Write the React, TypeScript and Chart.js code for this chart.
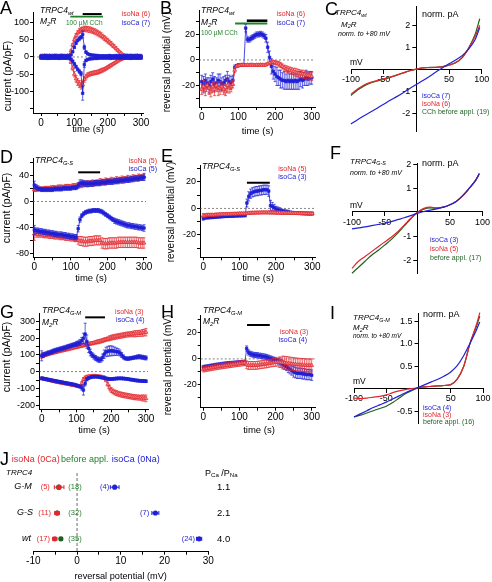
import React, { useEffect, useRef } from 'react';
import { Chart, registerables } from 'chart.js';

Chart.register(...registerables);

const FONT = '"Liberation Sans", Arial, Helvetica, sans-serif';
Chart.defaults.font.family = FONT;
Chart.defaults.color = '#000';

const RED = '#e2262c';
const RED_FILL = '#f08a8d';
const BLUE = '#2020d6';
const GREEN = '#23802a';
const DKGREEN = '#1e5f20';
const BLACK = '#000000';

// ---------- time base (s) ----------
const T = [
  0, 5, 10, 15, 20, 25, 30, 35, 40, 45,
  50, 55, 60, 65, 70, 75, 80, 85, 90, 95,
  100, 105, 110, 115, 120, 125, 130, 135, 140, 145,
  150, 155, 160, 165, 170, 175, 180, 185, 190, 195,
  200, 205, 210, 215, 220, 225, 230, 235, 240, 245,
  250, 255, 260, 265, 270, 275, 280, 285, 290, 295,
  300,
];

// ---------- Panel A: TRPC4wt current (pA/pF) ----------
const A_NA_OUT = [
  3, 3, 4, 3, 3, 4, 3, 3, 3, 4,
  3, 3, 4, 3, 3, 3, 4, 5, 18, 35,
  50, 62, 70, 75, 78, 80, 81, 81, 80, 79,
  78, 76, 74, 72, 69, 66, 63, 59, 55, 51,
  47, 43, 39, 34, 30, 25, 20, 15, 11, 7,
  5, 4, 3, 3, 4, 3, 3, 3, 4, 3,
  3,
];
const A_NA_OUT_E = [
  1, 1, 1, 1, 1, 1, 1, 1, 1, 1,
  1, 1, 1, 1, 1, 1, 1, 2, 3, 4,
  5, 6, 6, 7, 7, 7, 8, 8, 8, 8,
  8, 8, 8, 8, 8, 8, 8, 7, 7, 7,
  7, 6, 6, 6, 5, 5, 4, 4, 3, 2,
  2, 1, 1, 1, 1, 1, 1, 1, 1, 1,
  1,
];
const A_NA_IN = [
  -3, -3, -4, -3, -3, -3, -4, -3, -3, -3,
  -4, -3, -3, -3, -4, -3, -3, -5, -15, -32,
  -50, -63, -72, -78, -83, -80, -65, -57, -52, -50,
  -48, -47, -46, -45, -44, -42, -40, -38, -36, -33,
  -30, -27, -24, -21, -18, -15, -12, -9, -7, -5,
  -4, -3, -3, -4, -3, -3, -3, -3, -4, -3,
  -3,
];
const A_NA_IN_E = [
  1, 1, 1, 1, 1, 1, 1, 1, 1, 1,
  1, 1, 1, 1, 1, 1, 1, 2, 4, 6,
  8, 9, 10, 10, 10, 9, 8, 7, 6, 6,
  6, 6, 6, 6, 6, 6, 6, 6, 5, 5,
  5, 5, 5, 4, 4, 4, 3, 3, 2, 2,
  2, 1, 1, 1, 1, 1, 1, 1, 1, 1,
  1,
];
const A_CA_OUT = [
  3, 3, 3, 4, 3, 3, 3, 3, 4, 3,
  3, 3, 3, 4, 3, 3, 3, 3, 6, 15,
  28, 40, 48, 53, 57, 65, 28, 14, 9, 7,
  6, 5, 5, 4, 4, 3, 3, 3, 3, 3,
  3, 4, 3, 3, 3, 4, 3, 3, 3, 3,
  3, 3, 4, 3, 3, 3, 3, 4, 3, 3,
  3,
];
const A_CA_OUT_E = [
  1, 1, 1, 1, 1, 1, 1, 1, 1, 1,
  1, 1, 1, 1, 1, 1, 1, 1, 1, 2,
  3, 4, 4, 5, 5, 10, 6, 3, 2, 1,
  1, 1, 1, 1, 1, 1, 1, 1, 1, 1,
  1, 1, 1, 1, 1, 1, 1, 1, 1, 1,
  1, 1, 1, 1, 1, 1, 1, 1, 1, 1,
  1,
];
const A_CA_IN = [
  -3, -3, -3, -3, -4, -3, -3, -3, -3, -3,
  -3, -4, -3, -3, -3, -3, -3, -3, -6, -12,
  -20, -28, -36, -42, -48, -105, -22, -10, -7, -6,
  -5, -5, -4, -4, -4, -3, -3, -3, -3, -3,
  -3, -3, -4, -3, -3, -3, -3, -3, -3, -3,
  -3, -3, -3, -3, -4, -3, -3, -3, -3, -3,
  -3,
];
const A_CA_IN_E = [
  1, 1, 1, 1, 1, 1, 1, 1, 1, 1,
  1, 1, 1, 1, 1, 1, 1, 1, 2, 2,
  3, 4, 4, 5, 6, 20, 8, 3, 2, 1,
  1, 1, 1, 1, 1, 1, 1, 1, 1, 1,
  1, 1, 1, 1, 1, 1, 1, 1, 1, 1,
  1, 1, 1, 1, 1, 1, 1, 1, 1, 1,
  1,
];

// ---------- Panel B: TRPC4wt reversal potential (mV) ----------
const B_NA = [
  -23, -21, -24, -20, -22, -25, -21, -23, -20, -24,
  -22, -21, -23, -25, -20, -22, -21, -19, -8, -5,
  -4.5, -4, -3.8, -4, -4.1, -3.9, -4, -3.8, -4, -4.1,
  -3.9, -4, -3.8, -3.9, -4, -3.8, -3, -2.5, -2, -1.5,
  -2, -2.5, -3, -4, -5, -6, -7, -7.5, -8, -8.5,
  -9, -9.5, -10, -10.5, -11, -11, -11.5, -12, -12, -12.5,
  -13,
];
const B_NA_E = [
  4, 5, 4, 3, 5, 4, 4, 5, 3, 4,
  5, 4, 4, 3, 5, 4, 4, 3, 2, 1,
  1, 1, 1, 1, 1, 1, 1, 1, 1, 1,
  1, 1, 1, 1, 1, 1, 1, 1, 1, 1,
  1.5, 1.5, 2, 2, 2, 2, 2.5, 2.5, 2.5, 2.5,
  2.5, 3, 3, 3, 3, 3, 3, 3, 3, 3,
  3,
];
const B_CA = [
  -17, -19, -16, -18, -20, -17, -15, -19, -18, -16,
  -17, -19, -18, -16, -15, -17, -18, -16, -6, -4.5,
  -4, -4, -4, -4, 25, 16, 16, 17, 18, 19,
  20, 20, 20.5, 20, 19, 17, 10, 2, -5, -9,
  -11, -13, -14, -15, -16, -16, -17, -16, -17, -16,
  -17, -16, -17, -16, -15, -16, -15, -14, -15, -14,
  -14,
];
const B_CA_E = [
  5, 6, 5, 4, 6, 5, 5, 6, 4, 5,
  6, 5, 5, 4, 6, 5, 5, 4, 2, 1,
  1, 1, 1, 1, 3, 2, 2, 2, 2, 2,
  2, 2, 2, 2, 2, 3, 4, 5, 6, 6,
  6, 7, 6, 7, 6, 7, 6, 7, 6, 7,
  6, 7, 6, 7, 6, 6, 5, 6, 5, 5,
  5,
];

// ---------- Panel D: TRPC4 G-S current ----------
const D_NA_OUT = [
  18, 18, 19, 19, 19, 20, 20, 20, 20, 21,
  21, 21, 21, 22, 22, 22, 22, 23, 23, 23,
  23, 24, 24, 24, 25, 25, 26, 26, 27, 27,
  27, 28, 28, 28, 29, 29, 30, 30, 30, 31,
  31, 31, 32, 32, 32, 33, 33, 33, 34, 34,
  34, 35, 35, 35, 36, 36, 36, 37, 37, 37,
  38,
];
const D_NA_OUT_E = [
  3, 3, 2, 3, 3, 2, 3, 3, 3, 2,
  3, 3, 2, 3, 3, 3, 2, 3, 3, 3,
  2, 3, 3, 3, 4, 4, 5, 4, 4, 5,
  4, 4, 5, 4, 4, 4, 5, 4, 4, 5,
  4, 4, 5, 4, 4, 5, 4, 4, 5, 4,
  4, 5, 4, 4, 5, 4, 4, 5, 4, 4,
  5,
];
const D_CA_OUT = [
  25, 22, 20, 19, 18, 18, 18, 18, 18, 18,
  18, 19, 19, 19, 19, 19, 20, 20, 20, 20,
  20, 21, 21, 21, 24, 28, 28, 28, 27, 27,
  27, 27, 27, 28, 28, 28, 28, 29, 29, 29,
  30, 30, 30, 30, 31, 31, 31, 32, 32, 32,
  33, 33, 33, 34, 34, 35, 35, 35, 36, 36,
  37,
];
const D_CA_OUT_E = [
  6, 4, 4, 3, 3, 3, 3, 3, 3, 3,
  3, 3, 3, 3, 3, 3, 3, 3, 3, 3,
  3, 3, 3, 3, 4, 5, 5, 4, 4, 4,
  4, 4, 4, 4, 4, 4, 4, 4, 4, 4,
  4, 4, 4, 4, 4, 4, 4, 4, 4, 4,
  4, 4, 4, 4, 4, 4, 4, 4, 4, 4,
  5,
];
const D_NA_IN = [
  -50, -50, -51, -51, -51, -52, -52, -52, -53, -53,
  -53, -54, -54, -54, -55, -55, -55, -56, -56, -56,
  -57, -57, -58, -58, -60, -61, -61, -62, -62, -62,
  -61, -61, -61, -60, -60, -60, -60, -64, -65, -65,
  -65, -64, -64, -64, -64, -64, -63, -63, -63, -63,
  -63, -63, -63, -63, -63, -63, -63, -64, -64, -64,
  -64,
];
const D_NA_IN_E = [
  10, 5, 4, 4, 4, 4, 4, 4, 4, 4,
  4, 4, 4, 4, 4, 4, 4, 4, 4, 4,
  4, 4, 4, 4, 6, 7, 7, 7, 7, 7,
  7, 7, 7, 7, 7, 7, 7, 8, 8, 8,
  8, 8, 8, 8, 8, 8, 8, 8, 8, 8,
  8, 8, 8, 8, 8, 8, 8, 8, 8, 8,
  8,
];
const D_CA_IN = [
  -44, -45, -45, -46, -46, -47, -47, -48, -48, -49,
  -49, -50, -50, -51, -51, -51, -52, -52, -53, -53,
  -54, -54, -55, -55, -42, -28, -22, -19, -17, -16,
  -15, -15, -14, -14, -14, -14, -15, -16, -18, -20,
  -22, -24, -26, -28, -30, -31, -32, -33, -34, -35,
  -36, -37, -37, -38, -38, -39, -39, -40, -40, -41,
  -41,
];
const D_CA_IN_E = [
  7, 4, 4, 4, 4, 4, 4, 4, 4, 4,
  4, 4, 4, 4, 4, 4, 4, 4, 4, 4,
  4, 4, 4, 4, 5, 4, 3, 3, 3, 3,
  3, 3, 3, 3, 3, 3, 3, 3, 3, 3,
  3, 3, 3, 3, 4, 4, 4, 4, 4, 4,
  4, 4, 4, 4, 4, 4, 4, 4, 4, 4,
  5,
];

// ---------- Panel E: TRPC4 G-S reversal potential ----------
const E_NA = [
  -5.5, -5.5, -5, -5, -5, -5, -5, -4.8, -4.8, -4.6,
  -4.6, -4.5, -4.5, -4.4, -4.4, -4.3, -4.3, -4.2, -4.2, -4.1,
  -4, -4, -4, -4, -3.8, -3.6, -3.5, -3.4, -3.4, -3.3,
  -3.3, -3.3, -3.2, -3.2, -3.2, -3.2, -3.2, -3.3, -3.3, -3.3,
  -3.4, -3.4, -3.4, -3.5, -3.5, -3.5, -3.6, -3.6, -3.6, -3.7,
  -3.7, -3.7, -3.8, -3.8, -3.8, -3.9, -3.9, -3.9, -4, -4,
  -4,
];
const E_NA_E = [
  1.5, 1.2, 1, 1, 1, 1, 1, 1, 1, 1,
  1, 1, 1, 1, 1, 1, 1, 1, 1, 1,
  1, 1, 1, 1, 1, 1, 1, 1, 1, 1,
  1, 1, 1, 1, 1, 1, 1, 1, 1, 1,
  1, 1, 1, 1, 1, 1, 1, 1, 1, 1,
  1, 1, 1, 1, 1, 1, 1, 1, 1, 1,
  1,
];
const E_CA = [
  -7.5, -7.2, -7, -7, -6.8, -6.8, -6.6, -6.5, -6.4, -6.3,
  -6.2, -6.1, -6, -6, -5.9, -5.8, -5.8, -5.7, -5.6, -5.6,
  -5.5, -5.5, -5.4, -5.4, 4, 9, 11, 12, 12.5, 13,
  13, 13.5, 13.5, 14, 14, 14, 13, 2, 1.5, 0.5,
  -0.5, -1, -1.5, -2, -2.3, -2.6, -2.8, -3, -3.2, -3.3,
  -3.4, -3.5, -3.6, -3.7, -3.8, -3.8, -3.9, -3.9, -4, -4,
  -4,
];
const E_CA_E = [
  1.5, 1, 1, 1, 1, 1, 1, 1, 1, 1,
  1, 1, 1, 1, 1, 1, 1, 1, 1, 1,
  1, 1, 1, 1, 3, 3.5, 3.5, 3.5, 3.5, 3.5,
  3.5, 3.5, 3.5, 3.5, 3.5, 3.5, 4, 4, 3, 2.5,
  2, 2, 2, 1.5, 1.5, 1.5, 1.5, 1.5, 1, 1,
  1, 1, 1, 1, 1, 1, 1, 1, 1, 1,
  1,
];

// ---------- Panel G: TRPC4 G-M current ----------
const G_NA_OUT = [
  95, 98, 100, 103, 106, 110, 112, 115, 118, 120,
  123, 126, 128, 130, 133, 135, 138, 140, 143, 146,
  148, 150, 153, 155, 158, 160, 162, 165, 168, 170,
  172, 175, 178, 180, 183, 186, 190, 193, 196, 200,
  203, 206, 208, 210, 212, 214, 216, 218, 220, 222,
  223, 224, 225, 226, 227, 228, 229, 230, 232, 234,
  236,
];
const G_NA_OUT_E = [
  15, 12, 10, 10, 10, 10, 10, 10, 10, 10,
  10, 10, 10, 10, 10, 10, 10, 10, 10, 10,
  10, 10, 10, 10, 10, 10, 10, 10, 10, 10,
  10, 10, 12, 12, 12, 12, 12, 12, 12, 15,
  15, 15, 15, 15, 15, 15, 15, 15, 15, 15,
  15, 15, 15, 18, 18, 18, 18, 18, 20, 20,
  22,
];
const G_CA_OUT = [
  95, 100, 105, 110, 113, 116, 120, 125, 128, 131,
  134, 137, 140, 143, 146, 150, 153, 156, 160, 163,
  166, 170, 175, 185, 200, 225, 180, 140, 115, 100,
  90, 82, 75, 70, 72, 85, 105, 118, 122, 124,
  125, 124, 122, 120, 118, 112, 100, 88, 80, 78,
  78, 80, 82, 84, 86, 88, 90, 88, 86, 84,
  82,
];
const G_CA_OUT_E = [
  30, 15, 12, 12, 12, 12, 12, 12, 12, 12,
  12, 12, 12, 12, 12, 12, 12, 12, 12, 12,
  15, 15, 18, 20, 30, 65, 40, 25, 20, 15,
  15, 15, 15, 15, 15, 20, 25, 28, 30, 30,
  30, 28, 25, 22, 20, 18, 15, 12, 10, 10,
  10, 10, 10, 10, 10, 12, 12, 12, 12, 12,
  12,
];
const G_NA_IN = [
  -40, -42, -45, -47, -50, -52, -55, -57, -60, -62,
  -64, -66, -68, -70, -72, -74, -76, -78, -80, -82,
  -84, -86, -88, -70, -45, -35, -30, -28, -27, -26,
  -26, -26, -27, -28, -30, -32, -35, -50, -75, -95,
  -110, -118, -124, -128, -132, -135, -138, -140, -142, -144,
  -146, -148, -150, -152, -153, -154, -155, -156, -157, -158,
  -160,
];
const G_NA_IN_E = [
  8, 8, 8, 8, 8, 8, 8, 8, 8, 8,
  8, 8, 8, 8, 8, 8, 8, 8, 8, 8,
  8, 8, 8, 10, 10, 8, 6, 6, 6, 6,
  6, 6, 6, 6, 6, 6, 8, 10, 12, 14,
  15, 15, 15, 15, 15, 15, 15, 15, 15, 15,
  15, 15, 15, 15, 15, 15, 15, 15, 18, 18,
  20,
];
const G_CA_IN = [
  -40, -42, -44, -46, -48, -50, -52, -54, -56, -58,
  -60, -62, -64, -66, -68, -70, -72, -74, -76, -78,
  -82, -86, -90, -95, -110, -70, -45, -38, -34, -31,
  -30, -30, -30, -32, -34, -36, -38, -40, -42, -44,
  -44, -43, -42, -41, -40, -40, -40, -41, -42, -43,
  -45, -47, -48, -50, -52, -53, -54, -55, -56, -56,
  -57,
];
const G_CA_IN_E = [
  8, 8, 8, 8, 8, 8, 8, 8, 8, 8,
  8, 8, 8, 8, 8, 8, 8, 8, 8, 8,
  8, 8, 8, 15, 30, 15, 10, 8, 8, 8,
  8, 8, 8, 8, 8, 8, 8, 8, 8, 8,
  8, 8, 8, 8, 8, 8, 8, 8, 8, 8,
  8, 8, 8, 8, 8, 8, 8, 8, 8, 8,
  8,
];

// ---------- Panel H: TRPC4 G-M reversal potential ----------
const H_NA = [
  -8, -7.8, -7.5, -7.3, -7, -6.8, -6.5, -6.3, -6, -5.8,
  -5.6, -5.4, -5.2, -5, -4.8, -4.6, -4.4, -4.2, -4, -3.8,
  -3.6, -3.4, -3.2, -3, -4.5, -5, -5, -5, -5, -5,
  -4.8, -4.6, -4.4, -4.2, -4, -3.8, -3.5, -3.2, -3, -2.8,
  -2.6, -2.5, -2.5, -2.6, -2.8, -3, -3.2, -3.4, -3.6, -3.8,
  -4, -4.2, -4.4, -4.5, -4.6, -4.7, -4.8, -4.9, -5, -5,
  -5,
];
const H_NA_E = [
  2, 2, 2, 2, 2, 2, 2, 2, 2, 2,
  2, 2, 2, 2, 2, 2, 2, 2, 2, 2,
  2, 2, 2, 2, 3, 3, 3, 3, 3, 3,
  3, 3, 3, 3, 3, 3, 3, 3, 3, 3,
  3, 3, 4, 4, 5, 5, 5, 5, 5, 5,
  5, 5, 5, 5, 5, 5, 5, 5, 5, 5,
  5,
];
const H_CA = [
  -6.5, -6.2, -6, -5.8, -5.5, -5.3, -5, -4.8, -4.6, -4.4,
  -4.2, -4, -3.8, -3.6, -3.5, -3.4, -3.3, -3.2, -3, -2.9,
  -2.8, -2.7, -2.6, -2.5, 8, 5, 4, 3.5, 3, 3,
  2.8, 2.5, 2.3, 2, 1.8, 1.5, 1, 0.5, 0, -0.5,
  -1, -1.5, -2, -3, -4, -5, -6, -7, -8, -9,
  -10, -10.5, -11, -11, -11, -11.5, -11.5, -12, -12, -12,
  -12.5,
];
const H_CA_E = [
  1.5, 1.5, 1.5, 1.5, 1.5, 1.5, 1.5, 1.5, 1.5, 1.5,
  1.5, 1.5, 1.5, 1.5, 1.5, 1.5, 1.5, 1.5, 1.5, 1.5,
  1.5, 1.5, 1.5, 1.5, 2, 2, 2, 2, 2, 2,
  2, 2, 2, 2, 2, 2, 2, 2, 2, 2,
  2, 2, 2.5, 2.5, 3, 3, 3, 3.5, 3.5, 3.5,
  4, 4, 4, 4, 4, 4, 4, 4, 4, 4,
  4,
];

// ---------- IV curves (normalised to +80 mV) ----------
const V_C = [-100, -90, -80, -70, -60, -50, -40, -30, -20, -10, 0, 10, 20, 30, 40, 50, 60, 70, 80, 90, 97];
const C_CA = [-2.5, -2.3, -2.12, -1.95, -1.78, -1.6, -1.42, -1.25, -1.07, -0.88, -0.7, -0.52, -0.33, -0.13, 0.07, 0.25, 0.42, 0.62, 0.92, 1.35, 1.9];
const C_NA = [-1.15, -0.9, -0.72, -0.6, -0.52, -0.44, -0.36, -0.27, -0.17, -0.07, 0, 0.06, 0.07, 0.08, 0.11, 0.18, 0.29, 0.52, 0.95, 1.5, 2.0];
const C_BEF = [-1.2, -0.95, -0.76, -0.63, -0.54, -0.46, -0.37, -0.27, -0.17, -0.07, 0, 0.06, 0.08, 0.09, 0.12, 0.19, 0.3, 0.53, 0.97, 1.6, 2.3];

const V_F = [-100, -90, -80, -70, -60, -50, -40, -30, -20, -10, 0, 10, 20, 30, 40, 50, 60, 70, 80, 90, 95];
const F_CA = [-0.7, -0.66, -0.62, -0.57, -0.52, -0.47, -0.4, -0.32, -0.24, -0.15, -0.06, 0.02, 0.08, 0.13, 0.2, 0.3, 0.45, 0.7, 1.0, 1.35, 1.6];
const F_NA = [-2.35, -2.05, -1.85, -1.65, -1.45, -1.25, -1.05, -0.82, -0.55, -0.26, -0.02, 0.15, 0.2, 0.17, 0.2, 0.3, 0.45, 0.68, 1.0, 1.35, 1.58];
const F_BEF = [-2.55, -2.3, -2.05, -1.8, -1.6, -1.38, -1.15, -0.88, -0.58, -0.28, -0.02, 0.12, 0.17, 0.16, 0.2, 0.3, 0.45, 0.68, 1.0, 1.35, 1.6];

const V_I = [-100, -90, -80, -70, -60, -50, -40, -30, -20, -10, 0, 10, 20, 30, 40, 50, 60, 70, 80, 90, 95];
const I_CA = [-0.64, -0.57, -0.5, -0.43, -0.37, -0.31, -0.24, -0.17, -0.1, -0.04, 0.02, 0.08, 0.14, 0.2, 0.27, 0.36, 0.5, 0.72, 1.0, 1.3, 1.47];
const I_NA = [-0.22, -0.23, -0.22, -0.2, -0.18, -0.15, -0.1, -0.06, -0.03, -0.01, 0.01, 0.03, 0.04, 0.05, 0.06, 0.08, 0.2, 0.48, 1.0, 1.42, 1.68];
const I_BEF = [-0.64, -0.6, -0.55, -0.5, -0.45, -0.4, -0.32, -0.22, -0.12, -0.05, 0.01, 0.03, 0.04, 0.05, 0.06, 0.08, 0.2, 0.48, 1.0, 1.38, 1.6];

// ---------- Panel J: reversal potentials ----------
const J_ROWS = ['G-M', 'G-S', 'wt'];
const J_Y = [3, 2, 1];
const J_NA = [-4.1, -4.6, -5.1];
const J_NA_E = [1.1, 0.5, 0.5];
const J_BEF = [-4.2, -4.5, -3.7];
const J_BEF_E = [0.3, 0.3, 0.3];
const J_CA = [8.6, 17.9, 27.9];
const J_CA_E = [1.0, 0.8, 0.6];
const J_NA_N = ['(5)', '(11)', '(17)'];
const J_BEF_N = ['(18)', '(32)', '(35)'];
const J_CA_N = ['(4)', '(7)', '(24)'];
const J_RATIO = ['1.1', '2.1', '4.0'];

// ---------- ticks ----------
const TIME_TICKS = [0, 50, 100, 150, 200, 250, 300];
const TIME_LABELS = [0, 100, 200, 300];
const A_YT = [-150, -100, -50, 0, 50, 100];
const A_YL = [-100, -50, 0, 50, 100];
const RP_YT = [-30, -20, -10, 0, 10, 20, 30];
const RP_YL = [-20, 0, 20];
const D_YT = [-80, -60, -40, -20, 0, 20, 40, 60];
const D_YL = [-80, -40, 0, 40];
const G_YT = [-200, -150, -100, -50, 0, 50, 100, 150, 200, 250, 300];
const G_YL = [-200, -100, 0, 100, 200, 300];
const IV_XT = [-100, -50, 50, 100];
const CF_YT = [-2, -1, 1, 2];
const I_YT = [-0.5, 0.5, 1, 1.5];
const J_XT = [-10, -5, 0, 5, 10, 15, 20, 25, 30];
const J_XL = [-10, 0, 10, 20, 30];

// application bars (s)
const A_BARS = [
  { from: 125, to: 182, level: 124, color: BLACK, w: 2 },
  { from: 88, to: 186, level: 116.5, color: GREEN, w: 1.8 },
];
const B_BARS = [
  { from: 123, to: 179, level: 30.8, color: BLACK, w: 2.5 },
  { from: 91, to: 179, level: 28.6, color: GREEN, w: 1.8 },
];
const D_BARS = [{ from: 120, to: 180, level: 44.6, color: BLACK, w: 2 }];
const E_BARS = [{ from: 120, to: 183, level: 19.3, color: BLACK, w: 2 }];
const G_BARS = [{ from: 125, to: 182, level: 325, color: BLACK, w: 2 }];
const H_BARS = [{ from: 121, to: 184, level: 26.1, color: BLACK, w: 2 }];

// ---------- plugins ----------
const errorBarPlugin = {
  id: 'errBars',
  beforeDatasetDraw(chart: any, args: any) {
    const ds = chart.data.datasets[args.index];
    if (!ds.errY && !ds.errX) return;
    const ctx = chart.ctx;
    const xs = chart.scales.x;
    const ys = chart.scales.y;
    const cap = ds.errCap ?? 1.5;
    ctx.save();
    ctx.strokeStyle = ds.borderColor;
    ctx.lineWidth = ds.errWidth ?? 0.7;
    args.meta.data.forEach((pt: any, i: number) => {
      const d = ds.data[i];
      ctx.beginPath();
      if (ds.errY) {
        const e = ds.errY[i];
        const y1 = ys.getPixelForValue(d.y + e);
        const y2 = ys.getPixelForValue(d.y - e);
        ctx.moveTo(pt.x, y1); ctx.lineTo(pt.x, y2);
        ctx.moveTo(pt.x - cap, y1); ctx.lineTo(pt.x + cap, y1);
        ctx.moveTo(pt.x - cap, y2); ctx.lineTo(pt.x + cap, y2);
      }
      if (ds.errX) {
        const e = ds.errX[i];
        const x1 = xs.getPixelForValue(d.x - e);
        const x2 = xs.getPixelForValue(d.x + e);
        ctx.moveTo(x1, pt.y); ctx.lineTo(x2, pt.y);
        ctx.moveTo(x1, pt.y - cap); ctx.lineTo(x1, pt.y + cap);
        ctx.moveTo(x2, pt.y - cap); ctx.lineTo(x2, pt.y + cap);
      }
      ctx.stroke();
    });
    ctx.restore();
  },
};

const refLinePlugin = {
  id: 'refLine',
  beforeDatasetsDraw(chart: any, _a: any, opts: any) {
    if (!opts || !opts.axis) return;
    const { ctx, chartArea } = chart;
    ctx.save();
    ctx.setLineDash(opts.dash || [2, 2]);
    ctx.strokeStyle = opts.color || '#555';
    ctx.lineWidth = opts.width || 0.7;
    ctx.beginPath();
    if (opts.axis === 'y') {
      const y = chart.scales.y.getPixelForValue(opts.value ?? 0);
      ctx.moveTo(chartArea.left, y); ctx.lineTo(chartArea.right, y);
    } else {
      const x = chart.scales.x.getPixelForValue(opts.value ?? 0);
      ctx.moveTo(x, chartArea.top); ctx.lineTo(x, chartArea.bottom);
    }
    ctx.stroke();
    ctx.restore();
  },
};

const appBarPlugin = {
  id: 'appBars',
  afterDatasetsDraw(chart: any, _a: any, opts: any) {
    const bars = opts && opts.bars;
    if (!bars) return;
    const ctx = chart.ctx;
    for (const b of bars) {
      const x1 = chart.scales.x.getPixelForValue(b.from);
      const x2 = chart.scales.x.getPixelForValue(b.to);
      const y = chart.scales.y.getPixelForValue(b.level);
      ctx.save();
      ctx.strokeStyle = b.color;
      ctx.lineWidth = b.w;
      ctx.beginPath();
      ctx.moveTo(x1, y); ctx.lineTo(x2, y);
      ctx.stroke();
      ctx.restore();
    }
  },
};

// y ticks + labels for the centred IV axes (drawn on the left of the x=0 axis)
const ivYAxisPlugin = {
  id: 'ivY',
  afterDraw(chart: any, _a: any, opts: any) {
    if (!opts || !opts.ticks) return;
    const ctx = chart.ctx;
    const x0 = chart.scales.x.getPixelForValue(0);
    const ys = chart.scales.y;
    ctx.save();
    ctx.strokeStyle = '#000';
    ctx.fillStyle = '#000';
    ctx.lineWidth = 1;
    ctx.font = `${opts.size}px ${FONT}`;
    ctx.textAlign = 'right';
    ctx.textBaseline = 'middle';
    for (const v of opts.ticks) {
      const y = Math.round(ys.getPixelForValue(v)) + 0.5;
      ctx.beginPath();
      ctx.moveTo(x0 - 4, y); ctx.lineTo(x0, y);
      ctx.stroke();
      ctx.fillText(opts.decimals ? v.toFixed(opts.decimals) : String(v), x0 - 6, y);
    }
    ctx.restore();
  },
};

// ---------- axis helpers ----------
function linAxis(pos: any, range: number[], ticks: number[], labels: number[], size: number, fit: any, tl = 3) {
  return {
    type: 'linear',
    position: pos,
    min: range[0],
    max: range[1],
    border: { display: true, color: '#000', width: 1 },
    grid: { display: true, drawOnChartArea: false, drawTicks: true, tickLength: tl, tickWidth: 1, tickColor: '#000' },
    ticks: {
      color: '#000',
      font: { family: FONT, size },
      padding: 1,
      autoSkip: false,
      maxRotation: 0,
      minRotation: 0,
      callback: (v: number) => (labels.includes(v) ? String(v) : ''),
    },
    afterBuildTicks: (a: any) => { a.ticks = ticks.map((v) => ({ value: v })); },
    afterFit: fit,
  };
}

const baseOpts = {
  animation: false,
  responsive: false,
  devicePixelRatio: 1,
  events: [],
};

function timeConfig(p: any) {
  return {
    type: 'line',
    data: {
      datasets: p.ser.map((s: any) => ({
        data: T.map((t, i) => ({ x: t, y: s.v[i] })),
        errY: s.e,
        borderColor: s.c,
        backgroundColor: s.fill,
        pointBackgroundColor: s.fill,
        pointBorderColor: s.c,
        pointStyle: s.shape,
        pointRadius: s.r,
        pointBorderWidth: 0.7,
        borderWidth: 0.8,
        tension: 0,
        order: s.order,
        clip: false,
      })),
    },
    options: {
      ...baseOpts,
      layout: { padding: { left: 0, right: p.pr, top: p.pt, bottom: 0 } },
      plugins: {
        legend: { display: false },
        tooltip: { enabled: false },
        refLine: { axis: 'y', value: 0 },
        appBars: { bars: p.bars },
      },
      scales: {
        x: linAxis('bottom', p.xr, TIME_TICKS, TIME_LABELS, 10, (s: any) => { s.height = p.xH; }),
        y: linAxis('left', p.yr, p.yt, p.yl, 9, (s: any) => { s.width = p.yW; }),
      },
    },
    plugins: [errorBarPlugin, refLinePlugin, appBarPlugin],
  };
}

function ivConfig(p: any) {
  const xAx = linAxis({ y: 0 }, [-100, 100], IV_XT, IV_XT, 9, undefined, 4);
  return {
    type: 'line',
    data: {
      datasets: p.ser.map((s: any) => ({
        data: p.V.map((v: number, i: number) => ({ x: v, y: s.v[i] })),
        borderColor: s.c,
        borderWidth: 1.2,
        pointRadius: 0,
        cubicInterpolationMode: 'monotone',
        fill: false,
        order: s.order,
        clip: false,
      })),
    },
    options: {
      ...baseOpts,
      layout: { padding: p.pad },
      plugins: {
        legend: { display: false },
        tooltip: { enabled: false },
        ivY: { ticks: p.yt, size: 9, decimals: p.decimals || 0 },
      },
      scales: {
        x: xAx,
        y: {
          type: 'linear',
          position: { x: 0 },
          min: p.yr[0],
          max: p.yr[1],
          border: { display: true, color: '#000', width: 1 },
          grid: { display: false, drawTicks: false },
          ticks: { display: false },
        },
      },
    },
    plugins: [ivYAxisPlugin],
  };
}

function jConfig() {
  const mk = (vals: number[], errs: number[], color: string, order: number) => ({
    data: J_Y.map((y, i) => ({ x: vals[i], y })),
    errX: errs,
    errCap: 2,
    errWidth: 1,
    borderColor: color,
    backgroundColor: color,
    pointBackgroundColor: color,
    pointBorderColor: color,
    pointRadius: 2.6,
    pointBorderWidth: 0,
    showLine: false,
    order,
    clip: false,
  });
  return {
    type: 'scatter',
    data: {
      datasets: [
        mk(J_BEF, J_BEF_E, DKGREEN, 2),
        mk(J_NA, J_NA_E, RED, 1),
        mk(J_CA, J_CA_E, BLUE, 0),
      ],
    },
    options: {
      ...baseOpts,
      layout: { padding: { left: 33.3, right: 51.7, top: 33, bottom: 0 } },
      plugins: {
        legend: { display: false },
        tooltip: { enabled: false },
        refLine: { axis: 'x', value: 0, dash: [3, 2], color: '#444', width: 0.8 },
      },
      scales: {
        x: linAxis('bottom', [-10, 30], J_XT, J_XL, 10, (s: any) => { s.height = 30.3; }),
        y: { display: false, min: 0.5, max: 3.55 },
      },
    },
    plugins: [errorBarPlugin, refLinePlugin],
  };
}

const redS = (v: number[], e: number[], order: number) => ({ v, e, c: RED, fill: RED_FILL, shape: 'triangle', r: 2.2, order });
const blueS = (v: number[], e: number[], order: number) => ({ v, e, c: BLUE, fill: BLUE, shape: 'rect', r: 1.8, order });

const makeA = () => timeConfig({
  xr: [-24, 306], yr: [-162, 130], yt: A_YT, yl: A_YL, yW: 33, xH: 27, pt: 12, pr: 17, bars: A_BARS,
  ser: [redS(A_NA_OUT, A_NA_OUT_E, 2), redS(A_NA_IN, A_NA_IN_E, 2), blueS(A_CA_OUT, A_CA_OUT_E, 1), blueS(A_CA_IN, A_CA_IN_E, 1)],
});
const makeB = () => timeConfig({
  xr: [-7.4, 309], yr: [-36.9, 39.2], yt: RP_YT, yl: RP_YL, yW: 39, xH: 33, pt: 10, pr: 15, bars: B_BARS,
  ser: [blueS(B_CA, B_CA_E, 2), redS(B_NA, B_NA_E, 1)],
});
const makeD = () => timeConfig({
  xr: [-3.6, 305.5], yr: [-86, 66.6], yt: D_YT, yl: D_YL, yW: 33, xH: 29.7, pt: 13, pr: 14, bars: D_BARS,
  ser: [redS(D_NA_OUT, D_NA_OUT_E, 2), redS(D_NA_IN, D_NA_IN_E, 2), blueS(D_CA_OUT, D_CA_OUT_E, 1), blueS(D_CA_IN, D_CA_IN_E, 1)],
});
const makeE = () => timeConfig({
  xr: [-9.1, 307.4], yr: [-37, 32.7], yt: RP_YT, yl: RP_YL, yW: 40, xH: 29.7, pt: 20, pr: 15, bars: E_BARS,
  ser: [blueS(E_CA, E_CA_E, 2), redS(E_NA, E_NA_E, 1)],
});
const makeG = () => timeConfig({
  xr: [-7.8, 305.8], yr: [-225, 351], yt: G_YT, yl: G_YL, yW: 39, xH: 25.7, pt: 18, pr: 12, bars: G_BARS,
  ser: [redS(G_NA_OUT, G_NA_OUT_E, 2), redS(G_NA_IN, G_NA_IN_E, 2), blueS(G_CA_OUT, G_CA_OUT_E, 1), blueS(G_CA_IN, G_CA_IN_E, 1)],
});
const makeH = () => timeConfig({
  xr: [-7.2, 309.1], yr: [-37.5, 33.8], yt: RP_YT, yl: RP_YL, yW: 40.7, xH: 27.3, pt: 20, pr: 15, bars: H_BARS,
  ser: [blueS(H_CA, H_CA_E, 2), redS(H_NA, H_NA_E, 1)],
});
const makeC = () => ivConfig({
  V: V_C, yr: [-2.85, 2.85], yt: CF_YT, pad: { left: 21, right: 10.3, top: 6.7, bottom: 8.3 },
  ser: [{ v: C_BEF, c: DKGREEN, order: 2 }, { v: C_NA, c: RED, order: 1 }, { v: C_CA, c: BLUE, order: 0 }],
});
const makeF = () => ivConfig({
  V: V_F, yr: [-2.54, 2.04], yt: CF_YT, pad: { left: 22, right: 9.4, top: 18, bottom: 12 },
  ser: [{ v: F_BEF, c: DKGREEN, order: 2 }, { v: F_NA, c: RED, order: 1 }, { v: F_CA, c: BLUE, order: 0 }],
});
const makeI = () => ivConfig({
  V: V_I, yr: [-0.78, 1.67], yt: I_YT, decimals: 1, pad: { left: 24, right: 9, top: 18, bottom: 11.7 },
  ser: [{ v: I_BEF, c: DKGREEN, order: 2 }, { v: I_NA, c: RED, order: 1 }, { v: I_CA, c: BLUE, order: 0 }],
});

// ---------- components ----------
function ChartBox({ x, y, w, h, make }: { x: number; y: number; w: number; h: number; make: () => any }) {
  const ref = useRef<HTMLCanvasElement | null>(null);
  useEffect(() => {
    if (!ref.current) return;
    const ch = new Chart(ref.current, make());
    return () => ch.destroy();
  }, []);
  return <canvas ref={ref} width={w} height={h} style={{ position: 'absolute', left: x, top: y, width: w, height: h }} />;
}

type LP = { x: number; y: number; s?: number; c?: string; it?: boolean; a?: 'l' | 'r' | 'c'; rot?: boolean; children: React.ReactNode };
function Lbl({ x, y, s = 9, c = '#000', it = false, a = 'l', rot = false, children }: LP) {
  const style: React.CSSProperties = {
    position: 'absolute', fontSize: s, lineHeight: 1, color: c, fontStyle: it ? 'italic' : 'normal',
    whiteSpace: 'nowrap', fontFamily: FONT, left: x,
  };
  if (rot) {
    style.top = y;
    style.transform = 'translate(-50%,-50%) rotate(-90deg)';
  } else {
    style.top = y - 0.54 * s;
    if (a === 'r') style.transform = 'translateX(-100%)';
    if (a === 'c') style.transform = 'translateX(-50%)';
  }
  return <div style={style}>{children}</div>;
}
const Sub = ({ children }: { children: React.ReactNode }) => (
  <span style={{ fontSize: '0.68em', position: 'relative', top: '0.3em' }}>{children}</span>
);
const Trpc = ({ sub }: { sub: string }) => (<>TRPC4<Sub>{sub}</Sub></>);
const M2R = () => (<>M<Sub>2</Sub>R</>);

const LS = 7; // legend font size
const TS = 8.5; // construct title font size

export default function App() {
  const jRowY = [487.3, 513.3, 539];
  const jRowX = [31.7, 33, 31];
  const jNaX = [40.7, 38.3, 36.7];
  const jCaX = [100, 140, 181.7];
  return (
    <div style={{ position: 'absolute', left: 0, top: 0, width: 492, height: 582, background: '#fff', overflow: 'hidden', fontFamily: FONT }}>
      <ChartBox x={0} y={0} w={160} h={140} make={makeA} />
      <ChartBox x={160} y={0} w={170} h={140} make={makeB} />
      <ChartBox x={330} y={0} w={162} h={140} make={makeC} />
      <ChartBox x={0} y={145} w={160} h={142} make={makeD} />
      <ChartBox x={160} y={145} w={170} h={142} make={makeE} />
      <ChartBox x={330} y={145} w={162} h={140} make={makeF} />
      <ChartBox x={0} y={295} w={160} h={140} make={makeG} />
      <ChartBox x={160} y={295} w={170} h={140} make={makeH} />
      <ChartBox x={330} y={295} w={162} h={140} make={makeI} />
      <ChartBox x={0} y={440} w={260} h={142} make={jConfig} />

      {/* panel letters */}
      <Lbl x={0} y={9} s={18}>A</Lbl>
      <Lbl x={160} y={9} s={18}>B</Lbl>
      <Lbl x={325} y={9.5} s={18}>C</Lbl>
      <Lbl x={0} y={157.5} s={18}>D</Lbl>
      <Lbl x={161} y={156.5} s={18}>E</Lbl>
      <Lbl x={330} y={154} s={18}>F</Lbl>
      <Lbl x={0} y={312.5} s={18}>G</Lbl>
      <Lbl x={161} y={312.5} s={18}>H</Lbl>
      <Lbl x={330} y={314} s={18}>I</Lbl>
      <Lbl x={0} y={460} s={18}>J</Lbl>

      {/* Panel A */}
      <Lbl x={40} y={10.5} s={TS} it><Trpc sub="wt" /></Lbl>
      <Lbl x={40} y={22} s={TS} it><M2R /></Lbl>
      <Lbl x={66} y={23.5} s={6.5} c={GREEN}>100 µM CCh</Lbl>
      <Lbl x={150} y={13.5} s={LS} c={RED} a="r">isoNa (6)</Lbl>
      <Lbl x={150} y={22.5} s={LS} c={BLUE} a="r">isoCa (7)</Lbl>
      <Lbl x={7} y={76} s={10.5} rot>current (pA/pF)</Lbl>
      <Lbl x={88} y={129.5} s={9.5} a="c">time (s)</Lbl>

      {/* Panel B */}
      <Lbl x={201} y={10.5} s={TS} it><Trpc sub="wt" /></Lbl>
      <Lbl x={201} y={23} s={TS} it><M2R /></Lbl>
      <Lbl x={201} y={33.5} s={6.5} c={GREEN}>100 µM CCh</Lbl>
      <Lbl x={305} y={13.5} s={LS} c={RED} a="r">isoNa (6)</Lbl>
      <Lbl x={305} y={22.5} s={LS} c={BLUE} a="r">isoCa (7)</Lbl>
      <Lbl x={167} y={62} s={10} rot>reversal potential (mV)</Lbl>
      <Lbl x={257.5} y={131} s={9.5} a="c">time (s)</Lbl>

      {/* Panel C */}
      <Lbl x={335} y={13.5} s={8} it><Trpc sub="wt" /></Lbl>
      <Lbl x={341} y={25} s={8} it><M2R /></Lbl>
      <Lbl x={338} y={33.5} s={7} it>norm. to +80 mV</Lbl>
      <Lbl x={422} y={15} s={9}>norm. pA</Lbl>
      <Lbl x={350} y={63} s={8.5}>mV</Lbl>
      <Lbl x={422} y={96} s={LS} c={BLUE}>isoCa (7)</Lbl>
      <Lbl x={422} y={104} s={LS} c={RED}>isoNa (6)</Lbl>
      <Lbl x={422} y={112} s={LS} c={DKGREEN}>CCh before appl. (19)</Lbl>

      {/* Panel D */}
      <Lbl x={35} y={160.5} s={TS} it><Trpc sub="G-S" /></Lbl>
      <Lbl x={157} y={160.5} s={LS} c={RED} a="r">isoNa (5)</Lbl>
      <Lbl x={157} y={168.7} s={LS} c={BLUE} a="r">isoCa (5)</Lbl>
      <Lbl x={6} y={208} s={10.5} rot>current (pA/pF)</Lbl>
      <Lbl x={91} y={278} s={9.5} a="c">time (s)</Lbl>

      {/* Panel E */}
      <Lbl x={202} y={167} s={TS} it><Trpc sub="G-S" /></Lbl>
      <Lbl x={306.7} y={168.5} s={LS} c={RED} a="r">isoNa (5)</Lbl>
      <Lbl x={306.7} y={177} s={LS} c={BLUE} a="r">isoCa (3)</Lbl>
      <Lbl x={171} y={212} s={10} rot>reversal potential (mV)</Lbl>
      <Lbl x={258} y={278} s={9.5} a="c">time (s)</Lbl>

      {/* Panel F */}
      <Lbl x={350} y={162} s={8} it><Trpc sub="G-S" /></Lbl>
      <Lbl x={350} y={173} s={7} it>norm. to +80 mV</Lbl>
      <Lbl x={422} y={164} s={9}>norm. pA</Lbl>
      <Lbl x={350} y={206} s={8.5}>mV</Lbl>
      <Lbl x={430} y={239.5} s={LS} c={BLUE}>isoCa (3)</Lbl>
      <Lbl x={430} y={249} s={LS} c={RED}>isoNa (5)</Lbl>
      <Lbl x={430} y={258} s={LS} c={DKGREEN}>before appl. (17)</Lbl>

      {/* Panel G */}
      <Lbl x={42} y={311} s={TS} it><Trpc sub="G-M" /></Lbl>
      <Lbl x={42} y={322.5} s={TS} it><M2R /></Lbl>
      <Lbl x={143.5} y={311.7} s={LS} c={RED} a="r">isoNa (3)</Lbl>
      <Lbl x={144.5} y={320} s={LS} c={BLUE} a="r">isoCa (4)</Lbl>
      <Lbl x={6} y={357} s={10.5} rot>current (pA/pF)</Lbl>
      <Lbl x={94} y={430} s={9.5} a="c">time (s)</Lbl>

      {/* Panel H */}
      <Lbl x={203} y={310.5} s={TS} it><Trpc sub="G-M" /></Lbl>
      <Lbl x={203} y={321.5} s={TS} it><M2R /></Lbl>
      <Lbl x={308.3} y={331.7} s={LS} c={RED} a="r">isoNa (3)</Lbl>
      <Lbl x={307} y={340} s={LS} c={BLUE} a="r">isoCa (4)</Lbl>
      <Lbl x={168} y={365} s={10} rot>reversal potential (mV)</Lbl>
      <Lbl x={259} y={430} s={9.5} a="c">time (s)</Lbl>

      {/* Panel I */}
      <Lbl x={353} y={318.5} s={8} it><Trpc sub="G-M" /></Lbl>
      <Lbl x={353} y={328.5} s={8} it><M2R /></Lbl>
      <Lbl x={353} y={337} s={6.5} it>norm. to +80 mV</Lbl>
      <Lbl x={423} y={315} s={9}>norm. pA</Lbl>
      <Lbl x={353} y={381.7} s={8.5}>mV</Lbl>
      <Lbl x={423} y={407.3} s={7} c={BLUE}>isoCa (4)</Lbl>
      <Lbl x={423} y={414.7} s={7} c={RED}>isoNa (3)</Lbl>
      <Lbl x={423} y={422} s={7} c={DKGREEN}>before appl. (16)</Lbl>

      {/* Panel J */}
      <Lbl x={11.7} y={459.5} s={9} c={RED}>isoNa (0Ca)</Lbl>
      <Lbl x={61} y={459.5} s={9} c={GREEN}>before appl.</Lbl>
      <Lbl x={111.7} y={459.5} s={9} c={BLUE}>isoCa (0Na)</Lbl>
      <Lbl x={6} y={473.5} s={8} it>TRPC4</Lbl>
      <Lbl x={205} y={473.5} s={9}>P<Sub>Ca</Sub> /P<Sub>Na</Sub></Lbl>
      {J_ROWS.map((r, i) => (
        <Lbl key={'r' + i} x={jRowX[i]} y={jRowY[i]} s={9} it a="r">{r}</Lbl>
      ))}
      {J_NA_N.map((n, i) => (
        <Lbl key={'n' + i} x={jNaX[i]} y={jRowY[i]} s={7.5} c={RED}>{n}</Lbl>
      ))}
      {J_BEF_N.map((n, i) => (
        <Lbl key={'b' + i} x={68.3} y={jRowY[i]} s={7.5} c={GREEN}>{n}</Lbl>
      ))}
      {J_CA_N.map((n, i) => (
        <Lbl key={'c' + i} x={jCaX[i]} y={jRowY[i]} s={7.5} c={BLUE}>{n}</Lbl>
      ))}
      {J_RATIO.map((n, i) => (
        <Lbl key={'p' + i} x={217} y={jRowY[i]} s={9.5}>{n}</Lbl>
      ))}
      <Lbl x={120.7} y={577.3} s={9.2} a="c">reversal potential (mV)</Lbl>
    </div>
  );
}
